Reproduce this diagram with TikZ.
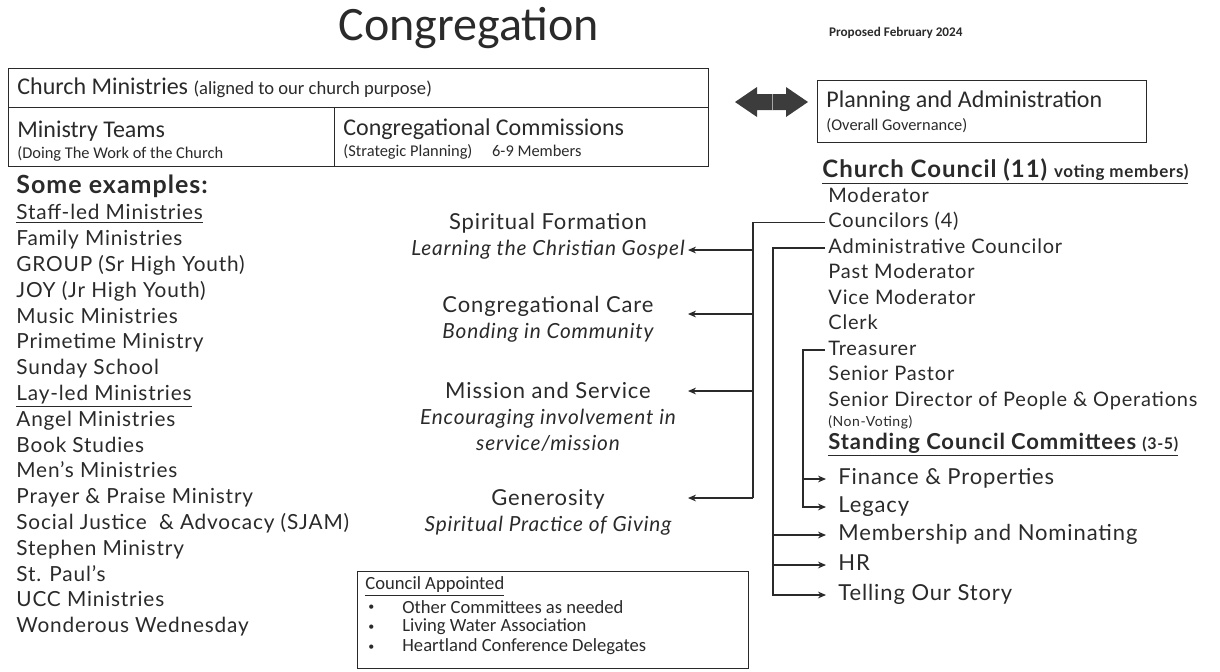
\documentclass[tikz,border=0pt]{standalone}
\usepackage{fontspec}
\setmainfont{Lato}[LetterSpace=4]
\newfontfamily\calfont{Carlito}
\usetikzlibrary{arrows.meta}
\definecolor{ink}{HTML}{2A2A2A}
\definecolor{arrowfill}{HTML}{3C3C3C}
\tikzset{
  box/.style={draw=ink, line width=0.6pt, inner sep=0pt, anchor=north west},
  boxhead/.style={font=\calfont\fontsize{12}{14}\selectfont, anchor=west, inner sep=0pt},
  boxsub/.style={font=\calfont\fontsize{8.2}{10}\selectfont, anchor=west, inner sep=0pt},
  castyle/.style={font=\calfont\fontsize{9.3}{11}\selectfont, anchor=west, inner sep=0pt},
  item/.style={font=\fontsize{10}{12}\selectfont, anchor=west, inner sep=0pt, text height=7pt, text depth=2pt},
  exitem/.style={item, font=\fontsize{10.4}{12}\selectfont},
  citem/.style={item, inner xsep=1.5pt},
  comitem/.style={item, font=\fontsize{11}{13}\selectfont, inner xsep=6pt},
  mid/.style={font=\fontsize{11}{13}\selectfont, align=center, inner sep=0pt},
  bus/.style={line width=0.9pt}
}
\newcommand\subline[1]{{\fontsize{10.4}{13}\selectfont\itshape #1}}
\begin{document}
\begin{tikzpicture}[x=0.5pt,y=-0.5pt,color=ink,>={Stealth[length=4pt,width=3.4pt]}]
\useasboundingbox (0,0) rectangle (1220,671);

% heading
\node [font=\calfont\fontsize{24}{28}\selectfont] (title) at (469,28) {Congregation};
\node [font=\calfont\bfseries\fontsize{6.6}{8}\selectfont, anchor=west] (date) at (822,33) {Proposed February 2024};

% boxes across the top
\node [box, minimum width=350pt, minimum height=19.5pt] (cmbox) at (8,68) {};
\node [box, minimum width=163pt, minimum height=29.5pt] (mtbox) at (8,107) {};
\node [box, minimum width=187pt, minimum height=29.5pt] (ccbox) at (334,107) {};
\node [box, minimum width=164.5pt, minimum height=31pt] (pabox) at (817,80) {};

\node [boxhead] (cmhead) at (17,88) {Church Ministries {\fontsize{9.3}{11}\selectfont (aligned to our church purpose)}};
\node [boxhead] (mthead) at (17,131) {Ministry Teams};
\node [boxsub] (mtsub) at (17,154) {(Doing The Work of the Church};
\node [boxhead] (cchead) at (343,129) {Congregational Commissions};
\node [boxsub] (ccsub) at (343,152) {(Strategic Planning)\hspace{8pt} 6-9 Members};
\node [boxhead] (pahead) at (826,101) {Planning and Administration};
\node [boxsub] (pasub) at (826,126) {(Overall Governance)};

% two-way arrow
\fill [arrowfill] (735,102) -- (757,87) -- (757,94) -- (786,94) -- (786,87) -- (808,102)
  -- (786,117) -- (786,110) -- (757,110) -- (757,117) -- cycle;
\draw [white!55!arrowfill, line width=0.4pt] (772,94) -- (772,110);

% ministry examples
\node [item, font=\bfseries\fontsize{12.5}{14}\selectfont] (exhead) at (16,188) {Some examples:};
\foreach \t [count=\i] in {\underline{Staff-led Ministries}, Family Ministries, GROUP (Sr High Youth),
    JOY (Jr High Youth), Music Ministries, Primetime Ministry, Sunday School,
    \underline{Lay-led Ministries}, Angel Ministries, Book Studies, Men’s Ministries,
    Prayer \& Praise Ministry, Social Justice\ \ \& Advocacy (SJAM), Stephen Ministry,
    St. Paul’s, UCC Ministries, Wonderous Wednesday}
  \node [exitem] (ex\i) at (16,189+25.8*\i) {\t};

% commissions
\node [mid] (sf) at (548,236) {Spiritual Formation\\\subline{Learning the Christian Gospel}};
\node [mid] (cc) at (548,319.5) {Congregational Care\\\subline{Bonding in Community}};
\node [mid] (ms) at (548,417) {Mission and Service\\\subline{Encouraging involvement in}\\\subline{service/mission}};
\node [mid] (gen) at (548,512.5) {Generosity\\\subline{Spiritual Practice of Giving}};

% church council
\node [item, font=\bfseries\fontsize{12}{14}\selectfont] (council) at (822,172)
  {\underline{Church Council (11) {\fontsize{8.5}{10}\selectfont voting members)}}};
\foreach \n/\t [count=\i from 0] in {mod/Moderator, cnc/Councilors (4), adm/Administrative Councilor,
    pmod/Past Moderator, vmod/Vice Moderator, clk/Clerk, tre/Treasurer, spas/Senior Pastor,
    sdir/Senior Director of People \& Operations}
  \node [citem] (\n) at (825,197+25.5*\i) {\t};
\node [item, font=\fontsize{7}{8}\selectfont] (nonv) at (828,421) {(Non-Voting)};
\node [item, font=\bfseries\fontsize{11}{12}\selectfont] (stand) at (828,444)
  {\underline{Standing Council Committees {\fontsize{8}{9}\selectfont (3-5)}}};
\node [comitem] (fin) at (826,479) {Finance \& Properties};
\node [comitem] (leg) at (826,507) {Legacy};
\node [comitem] (mem) at (826,535) {Membership and Nominating};
\node [comitem] (hr) at (826,565) {HR};
\node [comitem] (tell) at (826,595) {Telling Our Story};

% council appointed
\node [box, minimum width=195.5pt, minimum height=48.5pt] (cabox) at (357,571) {};
\node [castyle] (cahead) at (365,587) {\underline{Council Appointed}};
\foreach \t [count=\i] in {Other Committees as needed, Living Water Association, Heartland Conference Delegates} {
  \node [castyle, font=\calfont\fontsize{6}{7}\selectfont] (cadot\i) at (368,588+20*\i) {\textbullet};
  \node [castyle] (ca\i) at (402,587+20*\i) {\t};
}

% connectors
\coordinate (sftip) at (688,250);
\coordinate (cctip) at (688,314);
\coordinate (mstip) at (688,391);
\coordinate (gentip) at (688,498);
\coordinate (busA) at (753,498);
\coordinate (busB) at (773,595);
\coordinate (busC) at (803,507);

\draw [bus] (cnc.west) -| (busA);
\foreach \p in {sftip,cctip,mstip,gentip}
  \draw [bus,->] (busA |- \p) -- (\p);

\draw [bus,->] (adm.west) -| (busB) -- (tell.west);
\draw [bus,->] (busB |- mem.west) -- (mem.west);
\draw [bus,->] (busB |- hr.west) -- (hr.west);

\draw [bus,->] (tre.west) -| (busC) -- (leg.west);
\draw [bus,->] (busC |- fin.west) -- (fin.west);

\end{tikzpicture}
\end{document}
